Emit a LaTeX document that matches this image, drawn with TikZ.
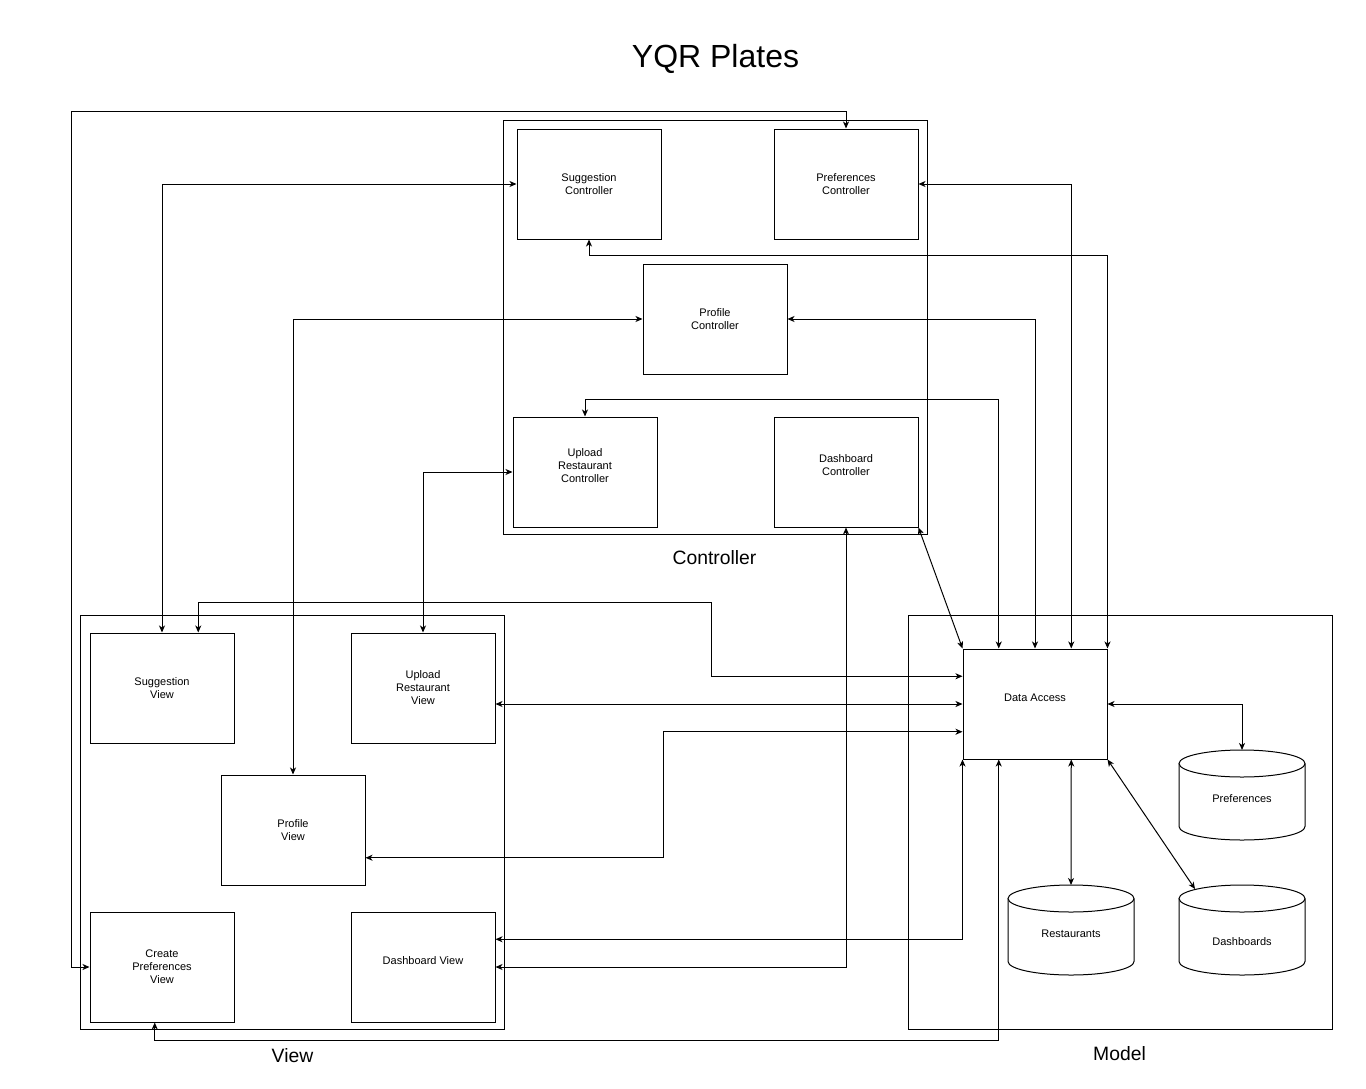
\documentclass[tikz,border=0pt]{standalone}
\usepackage{fontspec}
\setmainfont{Liberation Sans}
\usetikzlibrary{arrows.meta,calc}
\newcommand\dbcyl[4]{%
  \draw[cyl] (#1,#2+13.5) -- (#1,#4-13.5) arc[start angle=180,end angle=360,x radius=47.25pt,y radius=10.125pt] -- (#3,#2+13.5);
  \draw[cyl] ({(#1+#3)/2},#2+13.5) ellipse [x radius=47.25pt, y radius=10.125pt];
}
\begin{document}
\begin{tikzpicture}[x=0.75pt,y=-0.75pt,
  >={Stealth[length=5.25pt,width=4.5pt,inset=1.5pt]},
  box/.style={draw, line width=0.75pt, fill=white, minimum width=108pt, minimum height=82.5pt, inner sep=0pt, align=center, font=\fontsize{8.25}{9.75}\selectfont},
  group/.style={draw, line width=0.75pt, minimum width=318pt, minimum height=310.5pt, inner sep=0pt},
  grouplabel/.style={anchor=base, inner sep=0pt, font=\fontsize{14.5}{17}\selectfont},
  dblabel/.style={inner sep=0pt, font=\fontsize{8.25}{9.75}\selectfont},
  link/.style={<->, line width=0.75pt},
  cyl/.style={line width=0.75pt, fill=white}
]
\fill[white] (0,0) rectangle (1366,1088);
\useasboundingbox (0,0) rectangle (1366,1088);

\node[anchor=base, inner sep=0pt, font=\fontsize{24}{28}\selectfont] (title) at (715.5,68) {YQR Plates};

% groups
\node[group] (ctrlgrp) at (715,327) {};
\node[group] (viewgrp) at (292.5,822) {};
\node[group] (modelgrp) at (1120.5,822) {};
\node[grouplabel] (ctrllbl) at (714.5,564) {Controller};
\node[grouplabel] (viewlbl) at (292.5,1062) {View};
\node[grouplabel] (modellbl) at (1119.5,1060) {Model};

% controllers
\node[box] (sc) at (589,184) {Suggestion\\Controller};
\node[box] (pc) at (846,184) {Preferences\\Controller};
\node[box] (pfc) at (715,319) {Profile\\Controller};
\node[box] (urc) at (585,472) {Upload\\Restaurant\\Controller\\\mbox{}};
\node[box] (dc) at (846,472) {Dashboard\\Controller\\\mbox{}};

% views
\node[box] (sv) at (162,688) {Suggestion\\View};
\node[box] (urv) at (423,688) {Upload\\Restaurant\\View};
\node[box] (pv) at (293,830) {Profile\\View};
\node[box] (cpv) at (162,967) {Create\\Preferences\\View};
\node[box] (dv) at (423,967) {Dashboard View\\\mbox{}};

% model
\node[box] (da) at (1035,704) {Data Access\\\mbox{}};
\dbcyl{1179}{750}{1305}{840}
\dbcyl{1008}{885}{1134}{975}
\dbcyl{1179}{885}{1305}{975}
\node[dblabel] (prefdb) at (1242,799) {Preferences};
\node[dblabel] (restdb) at (1071,934) {Restaurants};
\node[dblabel] (dashdb) at (1242,942) {Dashboards};
\coordinate (prefdbtop) at (1242,750);
\coordinate (restdbtop) at (1071,885);
\coordinate (dashdbtop) at (1195,889);

% connectors
\draw[link] (cpv.west) -| (71,111) -| (pc.north);
\draw[link] (sc.west) -| (sv.north);
\draw[link] (pc.east) -| ($(da.north west)!0.75!(da.north east)$);
\draw[link] (sc.south) -- ++(0,16) -| (da.north east);
\draw[link] (pfc.west) -| (pv.north);
\draw[link] (pfc.east) -| (da.north);
\draw[link] (urc.north) -- ++(0,-17) -| ($(da.north west)!0.25!(da.north east)$);
\draw[link] (urc.west) -| (urv.north);
\draw[link] (dc.south east) -- (da.north west);
\draw[link] (dv.east) -| (dc.south);
\draw[link] ($(sv.north west)!0.75!(sv.north east)$) |- (711,602) |- ($(da.north west)!0.25!(da.south west)$);
\draw[link] (urv.east |- da.west) -- (da.west);
\draw[link] ($(pv.north east)!0.75!(pv.south east)$) -- ++(298,0) |- ($(da.north west)!0.75!(da.south west)$);
\draw[link] ($(dv.north east)!0.25!(dv.south east)$) -| (da.south west);
\draw[link] ($(cpv.south west)!0.45!(cpv.south east)$) -- ++(0,18) -| ($(da.south west)!0.25!(da.south east)$);
\draw[link] (da.east) -| (prefdbtop);
\draw[link] ($(da.south west)!0.75!(da.south east)$) -- (restdbtop);
\draw[link] (da.south east) -- (dashdbtop);
\end{tikzpicture}
\end{document}
